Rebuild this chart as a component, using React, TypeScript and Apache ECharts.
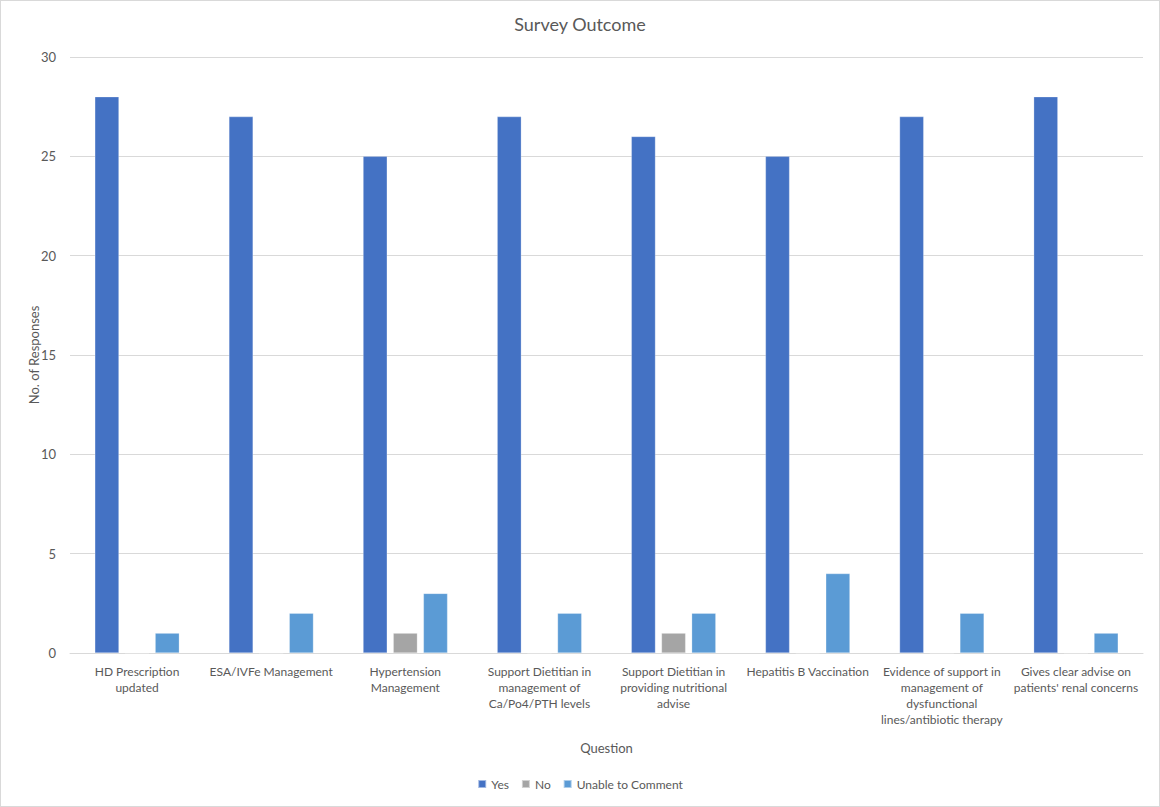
import React, { useEffect, useRef } from "react";
import * as echarts from "echarts";

const categories = [
  "HD Prescription\nupdated",
  "ESA/IVFe Management",
  "Hypertension\nManagement",
  "Support Dietitian in\nmanagement of\nCa/Po4/PTH levels",
  "Support Dietitian in\nproviding nutritional\nadvise",
  "Hepatitis B Vaccination",
  "Evidence of support in\nmanagement of\ndysfunctional\nlines/antibiotic therapy",
  "Gives clear advise on\npatients' renal concerns",
];
const yesValues = [28, 27, 25, 27, 26, 25, 27, 28];
const noValues = [0, 0, 1, 0, 1, 0, 0, 0];
const unableValues = [1, 2, 3, 2, 2, 4, 2, 1];
const seriesNames = ["Yes", "No", "Unable to Comment"];
const colors = ["#4472C4", "#A5A5A5", "#5B9BD5"];

const FONT = "Lato, 'Liberation Sans', sans-serif";

export default function App() {
  const ref = useRef<HTMLDivElement>(null);
  useEffect(() => {
    if (!ref.current) return;
    const chart = echarts.init(ref.current, null, { renderer: "svg" });
    const mk = (name: string, data: number[], color: string) => ({
      name,
      type: "bar",
      data,
      itemStyle: { color, borderColor: "rgba(255,255,255,0.5)", borderWidth: 0.5 },
      barGap: "25%",
      barCategoryGap: "37%",
    });
    chart.setOption({
      animation: false,
      backgroundColor: "#ffffff",
      textStyle: { fontFamily: FONT },
      title: {
        text: "Survey Outcome",
        left: "center",
        top: 9,
        textStyle: { fontSize: 18, fontWeight: "normal", color: "#595959", fontFamily: FONT },
      },
      legend: {
        data: seriesNames,
        bottom: 11,
        left: "center",
        itemWidth: 8,
        itemHeight: 8,
        itemGap: 12,
        icon: "rect",
        textStyle: { fontSize: 12, color: "#595959", fontFamily: FONT },
      },
      grid: { left: 69, right: 16, top: 56, bottom: 153, containLabel: false },
      xAxis: {
        type: "category",
        data: categories,
        name: "Question",
        nameLocation: "middle",
        nameGap: 88,
        nameMoveOverlap: false,
        nameTextStyle: { fontSize: 13, color: "#595959", fontFamily: FONT },
        axisLine: { lineStyle: { color: "#d9d9d9" } },
        axisTick: { show: false },
        axisLabel: {
          interval: 0,
          color: "#595959",
          fontSize: 12,
          lineHeight: 16,
          margin: 10,
          fontFamily: FONT,
        },
      },
      yAxis: {
        type: "value",
        min: 0,
        max: 30,
        interval: 5,
        name: "No. of Responses",
        nameLocation: "middle",
        nameGap: 30,
        nameMoveOverlap: false,
        nameTextStyle: { fontSize: 13, color: "#595959", fontFamily: FONT },
        axisLine: { show: false },
        axisTick: { show: false },
        axisLabel: { color: "#595959", fontSize: 13, margin: 14, fontFamily: FONT },
        splitLine: { lineStyle: { color: "#d9d9d9" } },
      },
      series: [
        mk(seriesNames[0], yesValues, colors[0]),
        mk(seriesNames[1], noValues, colors[1]),
        mk(seriesNames[2], unableValues, colors[2]),
      ],
    });
    return () => chart.dispose();
  }, []);
  return (
    <div
      style={{
        position: "absolute",
        left: 0,
        top: 0,
        width: 1158,
        height: 805,
        border: "1px solid #d9d9d9",
        background: "#fff",
      }}
    >
      <div ref={ref} style={{ width: 1158, height: 805 }} />
    </div>
  );
}
